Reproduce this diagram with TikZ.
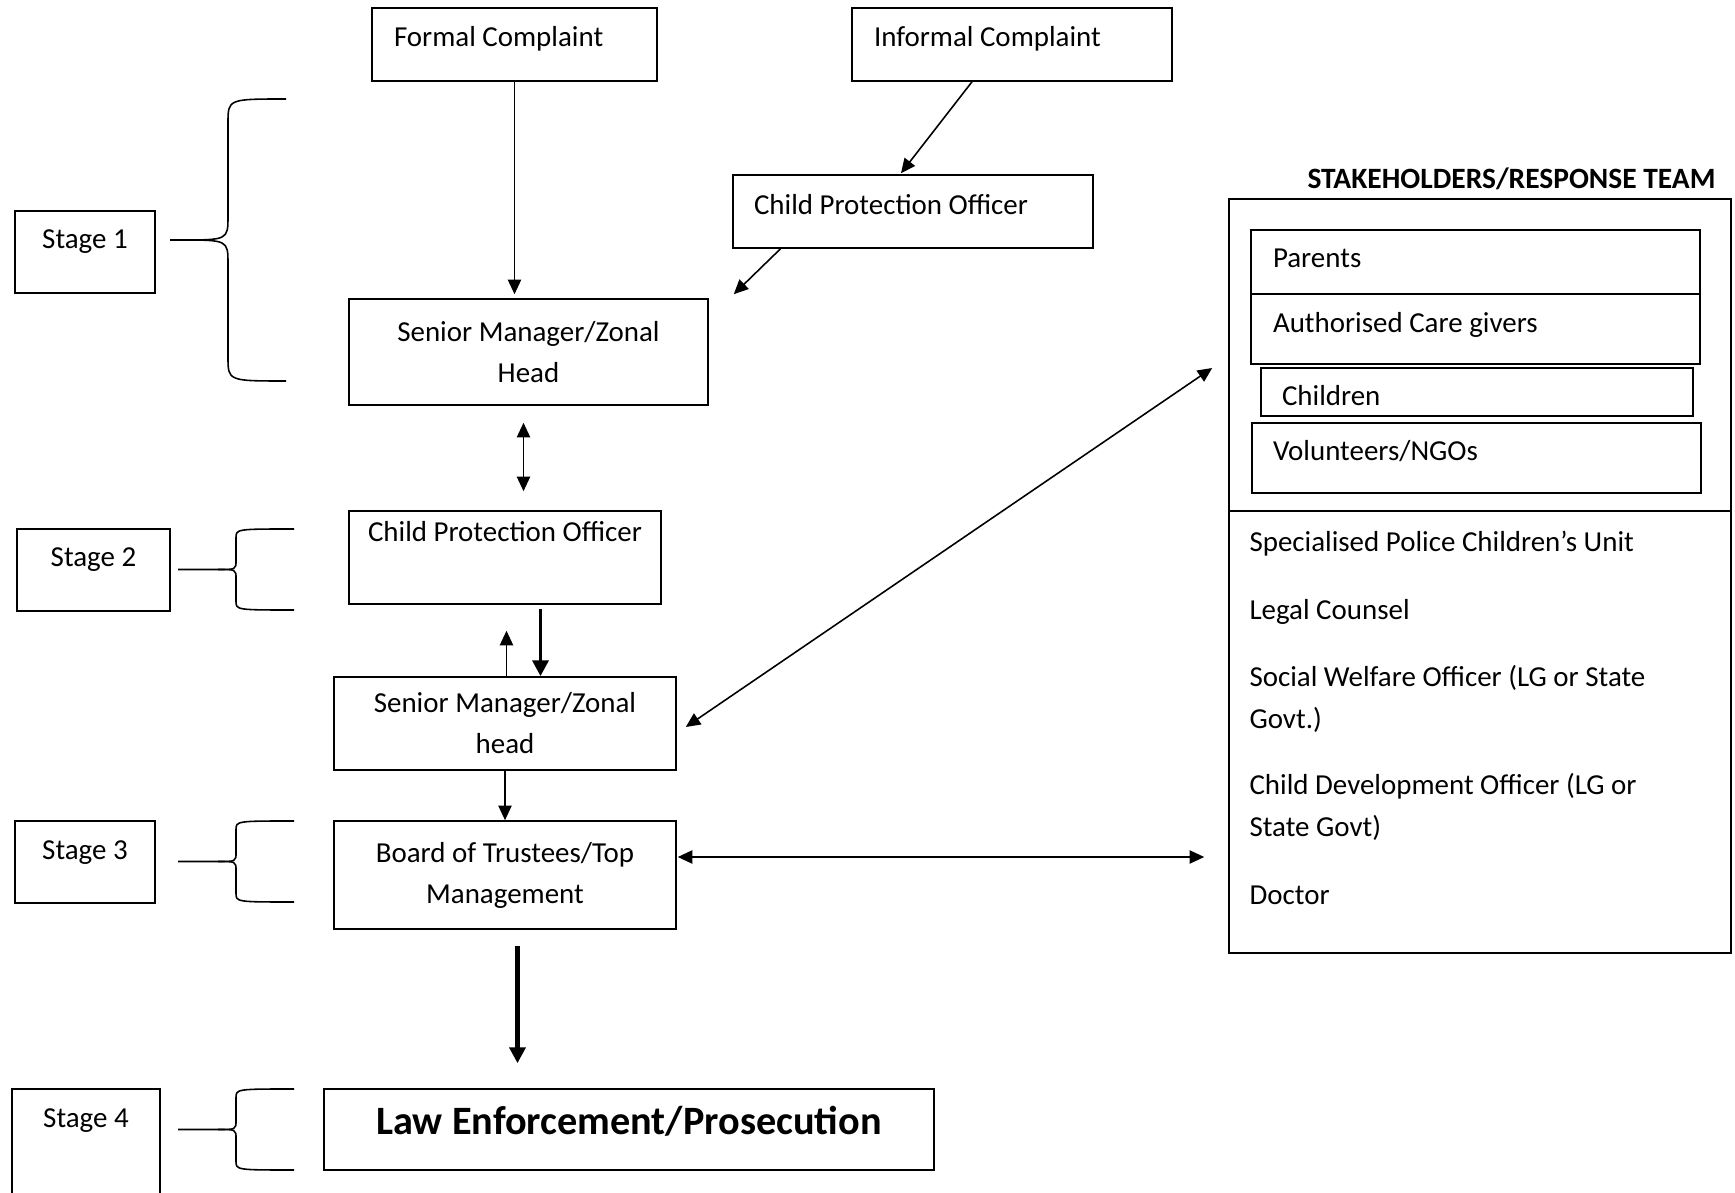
\documentclass[tikz,border=0pt]{standalone}
\usepackage{fontspec}
\setmainfont{Carlito}
\usepackage{tikz}
\usetikzlibrary{arrows.meta,calc,positioning}

\newdimen\unitpx
\unitpx=0.38pt

% curly bracket: tip x, top y, bottom y, bend
\newcommand{\stagebrace}[4]{%
  \draw[brace] (#1+116,#2) .. controls (#1+58,#2) .. (#1+58,#2+#4)
    -- (#1+58,{(#2+#3)/2-#4}) .. controls (#1+58,{(#2+#3)/2}) .. (#1+58-2*#4,{(#2+#3)/2}) -- (#1,{(#2+#3)/2});
  \draw[brace] (#1+116,#3) .. controls (#1+58,#3) .. (#1+58,#3-#4)
    -- (#1+58,{(#2+#3)/2+#4}) .. controls (#1+58,{(#2+#3)/2}) .. (#1+58-2*#4,{(#2+#3)/2});
}

\begin{document}
\begin{tikzpicture}[x=0.38pt, y=-0.38pt, >={Triangle[length=5.5pt, width=5pt]},
    box/.style={rectangle, draw, line width=0.6pt, inner sep=0pt, font=\fontsize{11}{15.6}\selectfont, align=center},
    oneline/.style={text height=21\unitpx, text depth=#1\unitpx},
    link/.style={line width=0.6pt},
    heavy/.style={line width=1.4pt, -{Triangle[length=6pt, width=6pt]}},
    brace/.style={line width=0.6pt},
    item/.style={anchor=base west, inner sep=0pt, align=left, font=\fontsize{11}{16}\selectfont}]

    \useasboundingbox (0,0) rectangle (1735,1193);

    % Complaints
    \node[box, oneline=16, minimum width=285\unitpx, minimum height=73\unitpx, text width=241\unitpx, align=flush left] (formal) at (514.5,44.5) {Formal Complaint};
    \node[box, oneline=16, minimum width=320\unitpx, minimum height=73\unitpx, text width=276\unitpx, align=flush left] (informal) at (1012,44.5) {Informal Complaint};
    \node[box, oneline=14, minimum width=360\unitpx, minimum height=73\unitpx, text width=318\unitpx, align=flush left] (cpo1) at (913,211.5) {Child Protection Officer};

    % Main chain
    \node[box, minimum width=359\unitpx, minimum height=106\unitpx] (smz1) at (528.5,352) {Senior Manager/Zonal\\Head};
    \node[box, oneline=52, minimum width=312\unitpx, minimum height=93\unitpx] (cpo2) at (505,557.5) {Child Protection Officer};
    \node[box, minimum width=342\unitpx, minimum height=93\unitpx] (smz2) at (505,723.5) {Senior Manager/Zonal\\head};
    \node[box, minimum width=342\unitpx, minimum height=108\unitpx] (trustees) at (505,875) {Board of Trustees/Top\\Management};
    \node[box, text height=30\unitpx, text depth=20\unitpx, minimum width=610\unitpx, minimum height=81\unitpx, font=\fontsize{15.3}{18}\selectfont\bfseries] (law) at (629,1129.5) {Law Enforcement/Prosecution};

    % Stages
    \node[box, oneline=27, minimum width=140\unitpx, minimum height=82\unitpx] (stage1) at (85,252) {Stage 1};
    \node[box, oneline=27, minimum width=153\unitpx, minimum height=82\unitpx] (stage2) at (93.5,570) {Stage 2};
    \node[box, oneline=25, minimum width=140\unitpx, minimum height=82\unitpx] (stage3) at (85,862) {Stage 3};
    \node[box, oneline=85, minimum width=148\unitpx, minimum height=140\unitpx] (stage4) at (86,1159) {Stage 4};

    \stagebrace{170}{99}{381}{24}
    \stagebrace{178}{529}{610}{9}
    \stagebrace{178}{821}{902}{9}
    \stagebrace{178}{1089}{1170}{9}

    % Stakeholders
    \node[anchor=base west, inner sep=0pt, font=\fontsize{11.2}{13}\selectfont\bfseries] (teamtitle) at (1307,189) {STAKEHOLDERS/RESPONSE TEAM};
    \node[box, minimum width=502\unitpx, minimum height=754\unitpx] (team) at (1480,576) {};
    \draw[link] ($(team.north west)+(0,313)$) -- ($(team.north east)+(0,313)$);

    \node[box, oneline=9, minimum width=449\unitpx, minimum height=64\unitpx, text width=405\unitpx, align=flush left] (parents) at (1475.5,262) {Parents};
    \node[box, oneline=13, minimum width=449\unitpx, minimum height=70\unitpx, text width=405\unitpx, align=flush left] (carers) at (1475.5,329) {Authorised Care givers};
    \node[box, text height=35\unitpx, text depth=7\unitpx, minimum width=432\unitpx, minimum height=48\unitpx, text width=390\unitpx, align=flush left] (children) at (1477,392) {Children};
    \node[box, oneline=15, minimum width=449\unitpx, minimum height=70\unitpx, text width=407\unitpx, align=flush left] (volunteers) at (1476.5,458) {Volunteers/NGOs};

    \node[item] (police) at (1249,552) {Specialised Police Children’s Unit};
    \node[item] (legal) at (1249,620) {Legal Counsel};
    \node[item] (welfare) at (1249,729) {Social Welfare Officer (LG or State\\Govt.)};
    \node[item] (development) at (1249,837) {Child Development Officer (LG or\\State Govt)};
    \node[item] (doctor) at (1249,905) {Doctor};

    % Arrows
    \draw[link, ->] (formal.south) -- ($(formal.south |- smz1.north)+(0,-4)$);
    \draw[link, ->] ($(informal.south)+(-40,0)$) -- ($(cpo1.north)+(-12,-1)$);
    \draw[link, ->] ($(cpo1.south)+(-132.5,0)$) -- ($(smz1.north east)+(25,-4)$);
    \draw[link, <->] ($(smz1.south)+(-5,17)$) -- ($(cpo2.north)+(18.5,-19)$);
    \draw[link, ->] ($(smz2.north)+(1.5,0)$) -- ($(cpo2.south)+(1.5,26)$);
    \draw[heavy] ($(cpo2.south)+(35.5,4)$) -- ($(smz2.north)+(35.5,0)$);
    \draw[link, ->] (smz2) -- (trustees);
    \draw[heavy, line width=1.6pt] ($(trustees.south)+(12.5,16)$) -- ($(law.north)+(-111.5,-25)$);
    \draw[link, <->] ($(smz2.east)+(9,3.5)$) -- ($(team.west)+(-16,-208)$);
    \draw[link, <->] ($(trustees.east)+(1,-18)$) -- ($(team.west)+(-24,281)$);
\end{tikzpicture}
\end{document}
